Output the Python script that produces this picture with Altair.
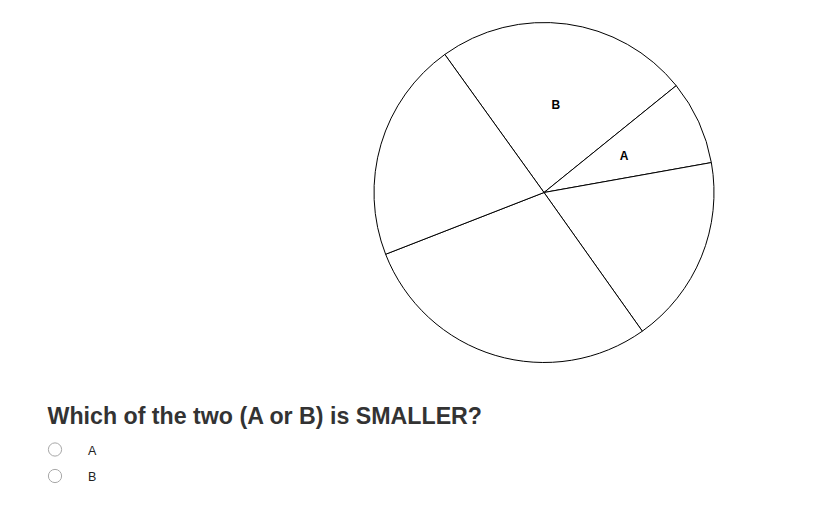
import altair as alt
import pandas as pd

# Pie slices, clockwise starting at the upper-left boundary
slices = ["B", "A", "C", "D", "E"]
shares = [24.1, 8.0, 18.0, 28.9, 21.0]
slice_labels = ["B", "A", "", "", ""]

# Answer options
options = ["A", "B"]
question = "Which of the two (A or B) is SMALLER?"

FONT = "Helvetica, Arial, Liberation Sans, sans-serif"
start = 324.3 * 3.141592653589793 / 180.0
two_pi = 2 * 3.141592653589793

pie_df = pd.DataFrame({"slice": slices, "share": shares,
                       "label": slice_labels, "idx": list(range(len(slices)))})
opt_df = pd.DataFrame({"opt": options})
q_df = pd.DataFrame({"q": [question]})

theta = alt.Theta("share:Q", stack=True,
                  scale=alt.Scale(range=[start, start + two_pi]))
cx, cy = 536, 184.5

arcs = alt.Chart(pie_df).mark_arc(
    outerRadius=170, fill="white", stroke="black", strokeWidth=1
).encode(
    theta=theta,
    order=alt.Order("idx:Q"),
    x=alt.value(cx), y=alt.value(cy),
)

labels = alt.Chart(pie_df).mark_text(
    radius=88, font=FONT, fontSize=12, fontWeight="bold", color="black"
).encode(
    theta=theta,
    order=alt.Order("idx:Q"),
    text="label:N",
    x=alt.value(cx), y=alt.value(cy),
)

qtext = alt.Chart(q_df).mark_text(
    font=FONT, fontSize=23.2, fontWeight="bold", color="#333333",
    align="left", baseline="alphabetic"
).encode(text="q:N", x=alt.value(39.5), y=alt.value(416))

yscale = alt.Scale(domain=options, range=[441.5, 468], padding=0)

radios = alt.Chart(opt_df).mark_point(
    shape="circle", size=175, filled=False, fill="white",
    stroke="#a8a8a8", strokeWidth=1, opacity=1
).encode(
    y=alt.Y("opt:N", scale=yscale, axis=None),
    x=alt.value(47),
)

opt_text = alt.Chart(opt_df).mark_text(
    font=FONT, fontSize=12.5, color="#222222", align="left", baseline="middle", dy=1
).encode(
    y=alt.Y("opt:N", scale=yscale, axis=None),
    x=alt.value(80),
    text="opt:N",
)

chart = alt.layer(arcs, labels, qtext, radios, opt_text).properties(
    width=820, height=500, padding=0,
    autosize=alt.AutoSizeParams(type="fit", contains="padding"),
).configure_view(stroke=None)

chart.save("out.html", embed_options={"renderer": "svg", "actions": False})
